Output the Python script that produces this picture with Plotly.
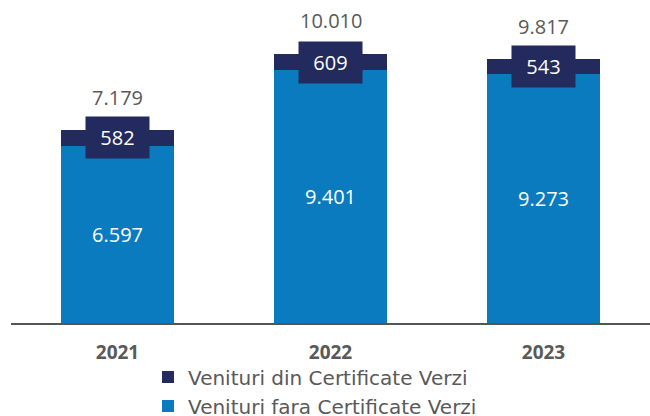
import plotly.graph_objects as go

years = ["2021", "2022", "2023"]
fara_cv = [6597, 9401, 9273]
din_cv = [582, 609, 543]
totals = [7179, 10010, 9817]
series_names = ["Venituri din Certificate Verzi", "Venituri fara Certificate Verzi"]

NAVY = "#232a5e"
BLUE = "#0a7bbf"
GRAY = "#595959"
FONT = "Open Sans, sans-serif"


def fmt(v):
    return f"{v:,}".replace(",", ".")


fig = go.Figure()
fig.add_trace(go.Bar(
    x=years, y=fara_cv, name=series_names[1], marker_color=BLUE, width=0.526,
    marker_line_width=0,
    text=[fmt(v) for v in fara_cv], textposition="inside", insidetextanchor="middle",
    textfont=dict(color="white", size=20, family=FONT),
))
fig.add_trace(go.Bar(
    x=years, y=din_cv, name=series_names[0], marker_color=NAVY, width=0.526,
    marker_line_width=0,
))

ann = []
for i, (b, t, tot) in enumerate(zip(fara_cv, din_cv, totals)):
    ann.append(dict(x=i, y=b + t / 2, xref="x", yref="y", text=fmt(t), showarrow=False,
                    font=dict(color="white", size=20, family=FONT),
                    bgcolor=NAVY, width=55, height=33, borderpad=4))
    ann.append(dict(x=i, y=tot, xref="x", yref="y", text=fmt(tot), showarrow=False,
                    yanchor="middle", yshift=33,
                    font=dict(color=GRAY, size=20, family=FONT)))

fig.update_layout(
    width=650, height=416, barmode="stack",
    margin=dict(l=11, r=0, t=0, b=93, autoexpand=False),
    paper_bgcolor="white", plot_bgcolor="white",
    font=dict(family=FONT, color=GRAY),
    annotations=ann,
    legend=dict(x=0.2144, xanchor="left", y=-0.107, yanchor="top",
                orientation="v", traceorder="reversed",
                font=dict(size=20, color=GRAY, family="DejaVu Sans, sans-serif"),
                itemsizing="constant", tracegroupgap=0,
                bgcolor="rgba(0,0,0,0)"),
    xaxis=dict(type="category", range=[-0.5, 2.5], showgrid=False,
               showline=True, linecolor="#555555", linewidth=2, automargin=False,
               ticks="", ticklabelstandoff=11,
               tickfont=dict(size=19, color=GRAY, family=FONT, weight="bold")),
    yaxis=dict(range=[0, 12016], visible=False, showgrid=False, zeroline=False,
               automargin=False),
    showlegend=True,
)

fig.write_html("out.html", post_script="document.body.style.margin='0';",
               config={"displayModeBar": False})
